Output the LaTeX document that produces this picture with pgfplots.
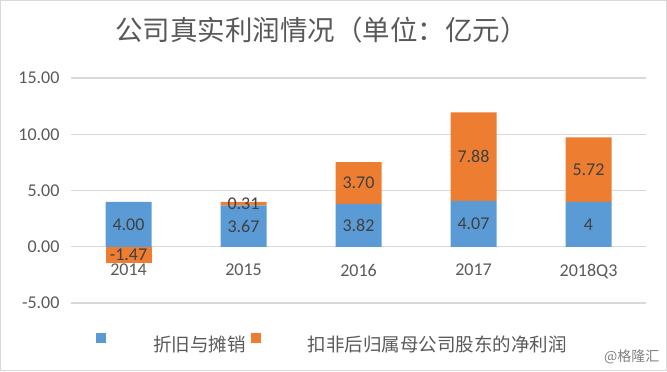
\documentclass[border=0pt]{standalone}
\usepackage{fontspec}
\setmainfont{Carlito}
\newfontfamily\cjk{Noto Sans CJK SC}
\usepackage{pgfplots}
\pgfplotsset{compat=1.18}
\definecolor{cblue}{HTML}{5B9BD5}
\definecolor{corange}{HTML}{ED7D31}
\definecolor{ctext}{HTML}{595959}
\definecolor{cgrid}{HTML}{D9D9D9}
\definecolor{clabel}{HTML}{404040}
\begin{document}
\begin{tikzpicture}[x=1bp,y=1bp]
\path[use as bounding box] (0,0) rectangle (667,371);
\draw[cgrid, line width=1bp] (0.5,0.5) rectangle (666.5,370.5);
\node[text=ctext, font=\cjk\fontsize{27.5bp}{30bp}\selectfont, anchor=west, inner sep=0pt] at (115,341) {公司真实利润情况（单位：亿元）};
% negative part of the 2014 orange bar (drawn first, so the tick label lies over it)
\begin{axis}[
  at={(71bp,68bp)}, anchor=south west, scale only axis,
  width=575bp, height=225bp,
  xmin=-0.5, xmax=4.5, ymin=-5, ymax=15,
  hide axis,
]
\addplot[ybar, bar width=46bp, bar shift=0pt, fill=corange, draw=none] coordinates {(0,-1.47)};
\end{axis}
\begin{axis}[
  at={(71bp,68bp)}, anchor=south west, scale only axis,
  width=575bp, height=225bp,
  xmin=-0.5, xmax=4.5, ymin=-5, ymax=15,
  ybar stacked, bar width=46bp,
  axis x line*=middle, axis y line*=left,
  hide obscured x ticks=false, hide obscured y ticks=false,
  x axis line style={cgrid, line width=1.2bp},
  y axis line style={draw=none},
  xtick={0,1,2,3,4}, xticklabels={2014,2015,2016,2017,2018Q3},
  ytick={-5,0,5,10,15},
  major tick length=0pt, tick style={draw=none},
  ymajorgrids, grid style={cgrid, line width=1.2bp},
  /pgf/number format/assume math mode=true,
  y tick label style={/pgf/number format/fixed, /pgf/number format/fixed zerofill, /pgf/number format/precision=2, xshift=-8bp},
  x tick label style={yshift=-14bp},
  tick label style={font=\fontsize{18bp}{20bp}\selectfont, text=ctext},
  legend columns=2,
  legend style={at={(axis description cs:0,0)}, anchor=west, xshift=25bp, yshift=-40bp,
    inner sep=0pt, outer sep=0pt,
    draw=none, fill=none, font=\cjk\fontsize{18.5bp}{20bp}\selectfont, text=ctext,
    nodes={inner sep=0pt, outer sep=0pt},
    /tikz/every even column/.append style={column sep=5bp}},
  legend image code/.code={\fill[#1, draw=none] (0bp,1.5bp) rectangle (10bp,11.5bp); \path[draw=none, fill=none] (0bp,0bp) -- (57bp,0bp);},
]
\addplot[fill=cblue, draw=none] coordinates {(0,4.00) (1,3.67) (2,3.82) (3,4.07) (4,4)};
\addlegendentry{折旧与摊销}
\addplot[fill=corange, draw=none] coordinates {(0,0) (1,0.31) (2,3.70) (3,7.88) (4,5.72)};
\addlegendentry{扣非后归属母公司股东的净利润}
\end{axis}
% data labels, centred in each segment
\begin{axis}[
  at={(71bp,68bp)}, anchor=south west, scale only axis,
  width=575bp, height=225bp,
  xmin=-0.5, xmax=4.5, ymin=-5, ymax=15,
  hide axis, clip=false,
]
\addplot[draw=none, mark=none, nodes near coords, nodes near coords align={center},
  point meta=explicit symbolic,
  every node near coord/.append style={font=\fontsize{18bp}{20bp}\selectfont, text=clabel}]
  table[meta=lab] {
x y lab
0 2.0 4.00
0 -0.735 -1.47
1 1.835 3.67
1 3.825 0.31
2 1.91 3.82
2 5.67 3.70
3 2.035 4.07
3 8.01 7.88
4 2.0 4
4 6.86 5.72
};
\end{axis}
\node[text=gray, font=\cjk\fontsize{14bp}{16bp}\selectfont, anchor=east] at (663,14) {@格隆汇};
\end{tikzpicture}
\end{document}
